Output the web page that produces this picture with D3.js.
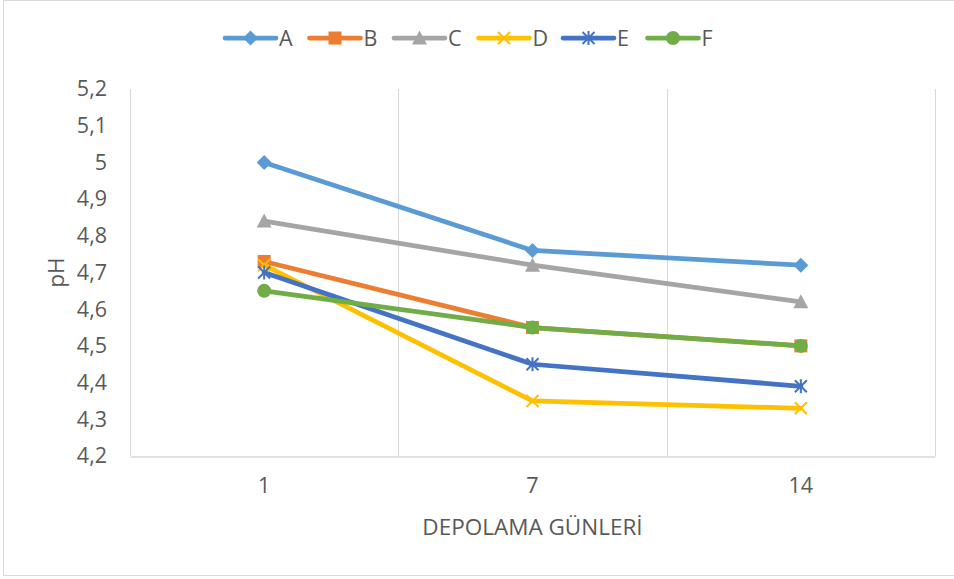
<!DOCTYPE html>
<html>
<head>
<meta charset="utf-8">
<script src="https://cdn.jsdelivr.net/npm/d3@7"></script>
<style>
  html, body { margin: 0; padding: 0; background: #fff; }
  svg { display: block; }
  text { font-family: "Open Sans", "DejaVu Sans", sans-serif; fill: #595959; }
</style>
</head>
<body>
<svg id="chart" width="954" height="579"></svg>
<script>
// Storage days on the x axis, pH readings per sample
const days = ["1", "7", "14"];
const seriesNames = ["A", "B", "C", "D", "E", "F"];
const valuesA = [5.00, 4.76, 4.72];
const valuesB = [4.73, 4.55, 4.50];
const valuesC = [4.84, 4.72, 4.62];
const valuesD = [4.72, 4.35, 4.33];
const valuesE = [4.70, 4.45, 4.39];
const valuesF = [4.65, 4.55, 4.50];
const yTicks = [4.2, 4.3, 4.4, 4.5, 4.6, 4.7, 4.8, 4.9, 5.0, 5.1, 5.2];

const colors = ["#5B9BD5", "#ED7D31", "#A5A5A5", "#FFC000", "#4472C4", "#70AD47"];
const markers = ["diamond", "square", "triangle", "cross", "star", "circle"];
const allValues = [valuesA, valuesB, valuesC, valuesD, valuesE, valuesF];

const svg = d3.select("#chart");
const plot = { left: 130, right: 935, top: 89, bottom: 456 };
const FONT = 21.5;

// outer chart border
svg.append("rect")
  .attr("x", 3.5).attr("y", 0.5)
  .attr("width", 970).attr("height", 575)
  .attr("fill", "#fff").attr("stroke", "#d9d9d9").attr("stroke-width", 1);

const x = d3.scaleBand().domain(days).range([plot.left, plot.right]);
const y = d3.scaleLinear().domain([4.2, 5.2]).range([plot.bottom, plot.top]);

// vertical gridlines on category boundaries
const boundaries = days.map(d => x(d)).concat([plot.right]);
svg.append("g").selectAll("line").data(boundaries).join("line")
  .attr("x1", d => Math.round(d) + 0.5).attr("x2", d => Math.round(d) + 0.5)
  .attr("y1", plot.top).attr("y2", plot.bottom)
  .attr("stroke", "#d9d9d9").attr("stroke-width", 1);

// x axis
const xAxis = svg.append("g")
  .attr("transform", `translate(0,${plot.bottom + 0.5})`)
  .call(d3.axisBottom(x).tickSize(0).tickPadding(21));
xAxis.select(".domain").attr("stroke", "#d9d9d9").attr("stroke-width", 1.5);
xAxis.selectAll("text").attr("font-size", FONT).attr("fill", "#595959")
  .style("font-family", '"Open Sans", sans-serif');

// y axis (labels only)
const yAxis = svg.append("g")
  .attr("transform", `translate(${plot.left},0)`)
  .call(d3.axisLeft(y).tickValues(yTicks).tickSize(0).tickPadding(23)
    .tickFormat(d => d3.format(".1f")(d).replace(".0", "").replace(".", ",")));
yAxis.select(".domain").remove();
yAxis.selectAll("text").attr("font-size", FONT).attr("fill", "#595959")
  .style("font-family", '"Open Sans", sans-serif');

// axis titles
svg.append("text")
  .attr("x", (plot.left + plot.right) / 2).attr("y", 535)
  .attr("text-anchor", "middle").attr("font-size", 22.5)
  .text("DEPOLAMA GÜNLERİ");
svg.append("text")
  .attr("transform", `translate(64,${(plot.top + plot.bottom) / 2}) rotate(-90)`)
  .attr("text-anchor", "middle").attr("font-size", 22.5)
  .text("pH");

function drawMarker(g, type, color) {
  switch (type) {
    case "diamond":
      g.append("path").attr("d", "M0,-7.5L7.5,0L0,7.5L-7.5,0Z").attr("fill", color); break;
    case "square":
      g.append("rect").attr("x", -6.5).attr("y", -6.5).attr("width", 13).attr("height", 13).attr("fill", color); break;
    case "triangle":
      g.append("path").attr("d", "M0,-7.5L7.5,6.5L-7.5,6.5Z").attr("fill", color); break;
    case "cross":
      g.append("path").attr("d", "M-6,-6L6,6M6,-6L-6,6").attr("stroke", color).attr("stroke-width", 2).attr("fill", "none"); break;
    case "star":
      g.append("path").attr("d", "M-6,-6L6,6M6,-6L-6,6M0,-7L0,7").attr("stroke", color).attr("stroke-width", 2).attr("fill", "none"); break;
    case "circle":
      g.append("circle").attr("r", 7).attr("fill", color); break;
  }
}

const line = d3.line()
  .x((d, i) => x(days[i]) + x.bandwidth() / 2)
  .y(d => y(d));

allValues.forEach((vals, si) => {
  const g = svg.append("g");
  g.append("path").datum(vals)
    .attr("d", line).attr("fill", "none")
    .attr("stroke", colors[si]).attr("stroke-width", 4.75)
    .attr("stroke-linejoin", "round").attr("stroke-linecap", "round");
  vals.forEach((v, i) => {
    const mg = g.append("g")
      .attr("transform", `translate(${x(days[i]) + x.bandwidth() / 2},${y(v)})`);
    drawMarker(mg, markers[si], colors[si]);
  });
});

// legend
const legend = svg.append("g");
seriesNames.forEach((name, i) => {
  const lx = 225 + i * 84.5, ly = 38;
  const item = legend.append("g");
  item.append("line").attr("x1", lx).attr("x2", lx + 51).attr("y1", ly).attr("y2", ly)
    .attr("stroke", colors[i]).attr("stroke-width", 4.75).attr("stroke-linecap", "round");
  const mg = item.append("g").attr("transform", `translate(${lx + 25.5},${ly})`);
  drawMarker(mg, markers[i], colors[i]);
  item.append("text").attr("x", lx + 54).attr("y", ly + 8)
    .attr("font-size", FONT).text(name);
});
</script>
</body>
</html>
